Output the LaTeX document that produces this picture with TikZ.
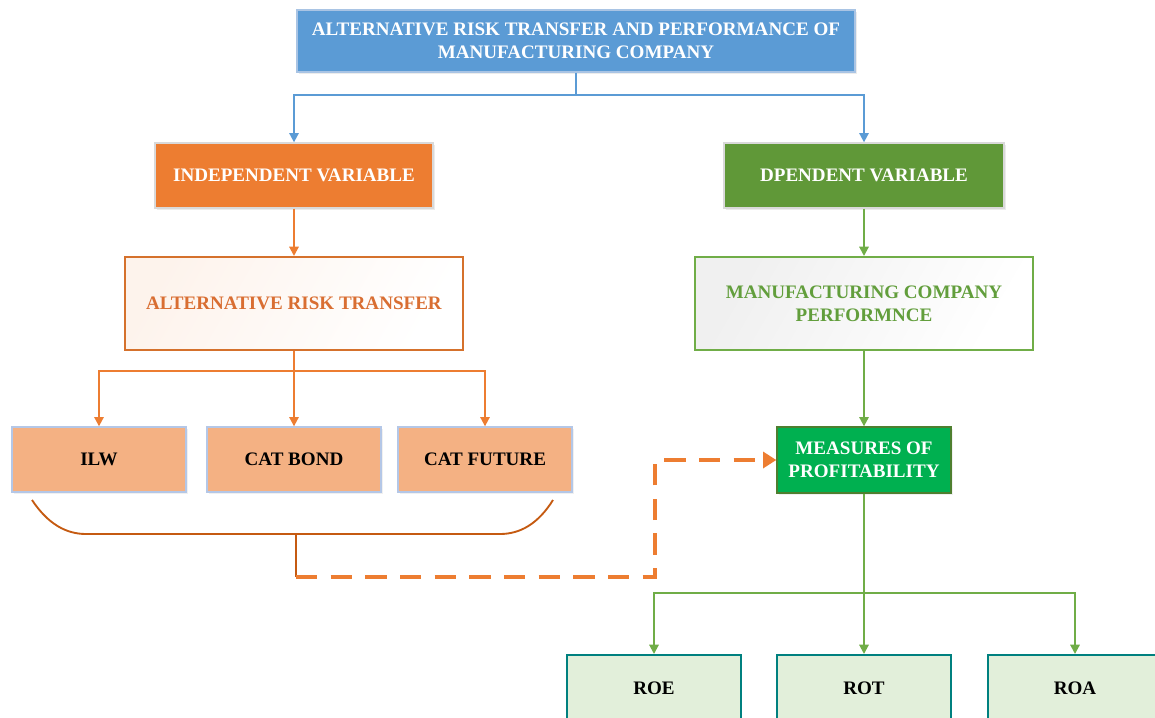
\documentclass[tikz,border=0pt]{standalone}
\usepackage{fontspec}
\setmainfont{Liberation Serif}
\usetikzlibrary{arrows.meta,shadows}
\definecolor{topblue}{HTML}{5B9BD5}
\definecolor{topedge}{HTML}{A9C4E4}
\definecolor{orng}{HTML}{ED7D31}
\definecolor{darkorng}{HTML}{C55A11}
\definecolor{depgreen}{RGB}{96,152,56}
\definecolor{lgreen}{HTML}{70AD47}
\definecolor{peach}{HTML}{F4B183}
\definecolor{peachedge}{HTML}{B4C7E7}
\definecolor{measgreen}{HTML}{00B050}
\definecolor{measedge}{HTML}{4E7F2F}
\definecolor{palegreen}{HTML}{E2EFDA}
\definecolor{tealedge}{HTML}{00807F}
\definecolor{orngtext}{RGB}{217,110,50}
\definecolor{greentext}{RGB}{98,158,60}
\tikzset{
  boxbase/.style={inner sep=0pt, align=center, font=\fontsize{14.3}{17}\selectfont\bfseries},
  topbox/.style={boxbase, fill=topblue, draw=topedge, line width=1.5pt, text=white,
     minimum width=418.5pt, minimum height=46.5pt,
     drop shadow={shadow xshift=1.5pt, shadow yshift=-1.5pt, opacity=0.15}},
  indepbox/.style={boxbase, fill=orng, draw=black!15, line width=1pt, text=white,
     minimum width=208.5pt, minimum height=48.75pt,
     drop shadow={shadow xshift=1.5pt, shadow yshift=-1.5pt, opacity=0.15}},
  depbox/.style={boxbase, fill=depgreen, draw=black!15, line width=1pt, text=white,
     minimum width=210pt, minimum height=48.75pt,
     drop shadow={shadow xshift=1.5pt, shadow yshift=-1.5pt, opacity=0.15}},
  artbox/.style={boxbase, draw=orng!90!black, line width=1.5pt, text=orngtext,
     minimum width=253.5pt, minimum height=69.75pt,
     shade, shading=axis, left color=orng!9, right color=white, shading angle=60},
  mcpbox/.style={boxbase, draw=lgreen, line width=1.5pt, text=greentext,
     minimum width=253.5pt, minimum height=69.75pt,
     shade, shading=axis, left color=black!6, right color=white, shading angle=60},
  peachbox/.style={boxbase, fill=peach, draw=peachedge, line width=1pt, text=black,
     minimum width=130.5pt, minimum height=48.75pt,
     drop shadow={shadow xshift=1.5pt, shadow yshift=-1.5pt, opacity=0.12}},
  measbox/.style={boxbase, fill=measgreen, draw=measedge, line width=1pt, text=white,
     minimum width=130.5pt, minimum height=49.5pt,
     drop shadow={shadow xshift=1.5pt, shadow yshift=-1.5pt, opacity=0.12}},
  resbox/.style={boxbase, fill=palegreen, draw=tealedge, line width=1.5pt, text=black,
     minimum width=130.5pt, minimum height=49.5pt},
  tip/.style={-{Triangle[width=7pt,length=7pt]}},
  blueline/.style={draw=topblue, line width=1.5pt, tip},
  orngline/.style={draw=orng, line width=1.5pt, tip},
  greenline/.style={draw=lgreen, line width=1.5pt, tip},
  bracketline/.style={draw=darkorng, line width=1.4pt},
  dashline/.style={draw=orng, line width=2.6pt, dash pattern=on 16pt off 10pt,
     -{Triangle[width=12pt,length=10pt]}}
}
\begin{document}
\begin{tikzpicture}[x=0.75pt,y=-0.75pt]
\useasboundingbox (0,0) rectangle (1155,717);

\node[topbox] (top) at (576,41) {ALTERNATIVE RISK TRANSFER AND PERFORMANCE OF\\MANUFACTURING COMPANY};
\node[indepbox] (indep) at (294,175.5) {INDEPENDENT VARIABLE};
\node[depbox] (dep) at (864,175.5) {DPENDENT VARIABLE};
\node[artbox] (art) at (294,303.5) {ALTERNATIVE RISK TRANSFER};
\node[mcpbox] (mcp) at (864,303.5) {MANUFACTURING COMPANY\\PERFORMNCE};
\node[peachbox] (ilw) at (99,459.5) {ILW};
\node[peachbox] (catb) at (294,459.5) {CAT BOND};
\node[peachbox] (catf) at (485,459.5) {CAT FUTURE};
\node[measbox] (meas) at (864,460) {MEASURES OF\\PROFITABILITY};
\node[resbox] (roe) at (654,688) {ROE};
\node[resbox] (rot) at (864,688) {ROT};
\node[resbox] (roa) at (1075,688) {ROA};

% top connectors
\coordinate (j1) at (576,95);
\draw[draw=topblue, line width=1.5pt] (top.south) -- (j1);
\draw[blueline] (j1) -| (indep.north);
\draw[blueline] (j1) -| (dep.north);

% left branch
\draw[orngline] (indep.south) -- (art.north);
\coordinate (j2) at (294,371);
\draw[draw=orng, line width=1.5pt] (art.south) -- (j2);
\draw[orngline] (j2) -| (ilw.north);
\draw[orngline] (j2) -- (catb.north);
\draw[orngline] (j2) -| (catf.north);

% bracket
\draw[bracketline] (32,500) .. controls (48,524) and (66,534) .. (86,534) -- (500,534)
   .. controls (520,534) and (538,524) .. (553,500);
\coordinate (bk) at (296,534);
\coordinate (bk2) at (296,577);
\coordinate (dc) at (655,577);
\draw[bracketline] (bk) -- (bk2);
\draw[dashline] (bk2) -- (dc) |- (meas.west);

% right branch
\draw[greenline] (dep.south) -- (mcp.north);
\draw[greenline] (mcp.south) -- (meas.north);
\coordinate (j3) at (864,593);
\draw[draw=lgreen, line width=1.5pt] (meas.south) -- (j3);
\draw[greenline] (j3) -| (roe.north);
\draw[greenline] (j3) -- (rot.north);
\draw[greenline] (j3) -| (roa.north);
\end{tikzpicture}
\end{document}
